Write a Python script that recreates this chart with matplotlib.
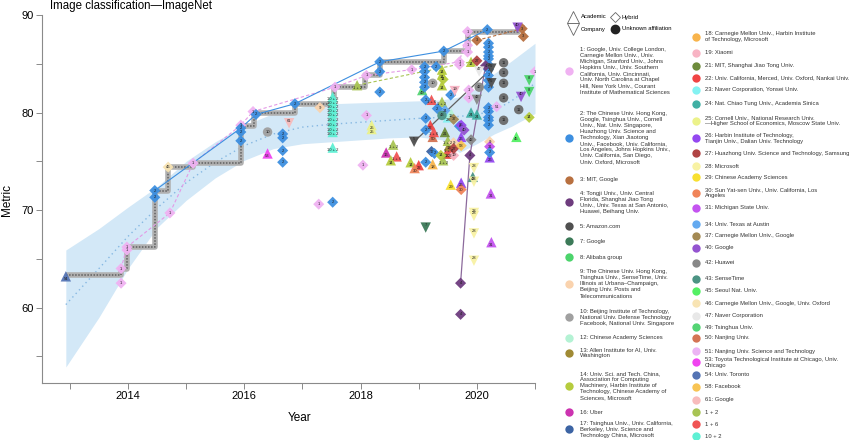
import numpy as np
import matplotlib.pyplot as plt
from matplotlib.ticker import FixedLocator, FuncFormatter

plt.rcParams['font.family'] = ['Liberation Sans', 'DejaVu Sans']

# ---- fitted trend with its band ----
band_year = [2012.93, 2013.5, 2014.0, 2014.5, 2015.0, 2015.5, 2016.0, 2016.5, 2017.0, 2017.5,
             2018.0, 2018.5, 2019.0, 2019.4, 2019.7, 2020.0, 2020.3, 2020.6, 2021.0]
band_lo = [53.9, 59.0, 64.0, 68.2, 71.0, 73.3, 75.1, 76.3, 76.8, 77.0,
           77.2, 77.4, 77.5, 77.2, 75.9, 76.8, 77.8, 78.6, 79.9]
band_hi = [65.9, 68.1, 70.3, 72.4, 75.0, 77.0, 78.7, 79.9, 80.6, 80.9,
           81.0, 81.1, 81.2, 81.3, 81.6, 82.5, 84.0, 85.3, 87.1]
band_mid = [60.3, 64.0, 67.3, 70.2, 72.8, 74.9, 76.6, 77.8, 78.5, 78.8,
            79.0, 79.2, 79.4, 79.5, 79.6, 79.8, 80.2, 81.2, 83.0]

# ---- state of the art (step) ----
sota_year = [2012.93, 2013.88, 2013.98, 2014.46, 2014.69, 2015.12, 2015.94, 2016.16, 2016.87,
             2017.55, 2018.07, 2018.33, 2019.43, 2019.84, 2020.7, 2020.82]
sota_val = [63.3, 64.0, 66.2, 72.0, 74.4, 74.8, 78.6, 80.0, 80.9,
            82.6, 83.8, 85.2, 86.3, 88.3, 88.7, 88.7]

# ---- trajectories of some groups ----
traj1_year = [2013.88, 2013.98, 2014.72, 2015.12, 2015.94, 2016.15, 2017.56, 2018.1, 2018.88, 2019.7, 2019.84]
traj1_val = [64.0, 66.2, 69.7, 74.8, 78.7, 80.1, 82.6, 83.8, 84.4, 85.2, 88.3]
traj2_year = [2014.46, 2015.94, 2016.2, 2016.87, 2018.33, 2019.43, 2020.18]
traj2_val = [72.0, 78.4, 79.8, 80.9, 85.2, 86.3, 88.5]
traj12_year = [2017.94, 2019.9]
traj12_val = [82.8, 85.2]
traj3_year = [2020.0, 2020.78]
traj3_val = [87.4, 88.6]
traj4_year = [2019.72, 2019.88, 2020.15]
traj4_val = [62.5, 75.6, 84.8]
traj5_year = [2018.92, 2020.25]
traj5_val = [77.0, 84.5]

# ---- individual results: group, year, metric, affiliation kind ----
# A academic, H hybrid, C company, U unknown
pt_group = ['54', '1', '1', '1', '1', '2', '2', '46', '1', '1',
            '1', '2', '2', '2', '1', '2', '10', '53', '2', '2',
            '2', '2', '61', '2', '1', '2', '9',
            '10+2', '10+2', '10+2', '10+2', '10+2', '10+2', '10+2', '10+2', '10+2', '10+2',
            '1', '1+2', '1', '1', '1', '25', '25', '2', '2', '2',
            '1+2', '16', '1+6', '14', '1', '5', '14', '22', '30', '7',
            '2', '2', '2', '2', '2', '2', '49', '2', '2', '2',
            '1+6', '1+2', '10', '14', '14', '14', '14', '2', '2', '2',
            '19', '50', '22', '1+6', '17', '2', '18', '1+2', '14', '13',
            '22', '1+6', '19', '13', '1+2', '9', '27', '43', '21', '23',
            '12', '34', '37', '2', '2', '58', '29', '26', '30',
            '1', '1', '1', '1', '1', '14', '27', '3', '1', '1',
            '47', '42', '42', '42', '26', '26', '24', '24', '40', '4',
            '4', '4', '28', '43', '28', '28', '28', '28', '28',
            '2', '2', '2', '2', '2', '2', '2', '2', '2', '2', '2',
            '4', '11', '11', '11', '11', '11', '5', '5',
            '2', '2', '2', '2', '2', '51', '40', '3', '3', '40',
            '11', '8', '8', '1', '14', '45', '9', '31', '2', '26',
            '31', '31']
pt_year = [2012.93, 2013.88, 2013.88, 2013.98, 2013.98, 2014.46, 2014.46, 2014.69, 2014.72, 2015.12,
           2015.94, 2015.94, 2015.94, 2015.94, 2016.15, 2016.2, 2016.4, 2016.4, 2016.66, 2016.66,
           2016.66, 2016.66, 2016.77, 2016.87, 2017.28, 2017.52, 2017.3,
           2017.52, 2017.52, 2017.52, 2017.52, 2017.52, 2017.52, 2017.52, 2017.52, 2017.52, 2017.52,
           2017.56, 2017.94, 2018.1, 2018.1, 2018.04, 2018.19, 2018.19, 2018.33, 2018.33, 2018.33,
           2018.56, 2018.44, 2018.62, 2018.52, 2018.88, 2018.92, 2018.86, 2019.0, 2018.93, 2019.12,
           2019.12, 2019.1, 2019.1, 2019.1, 2019.1, 2019.1, 2019.06, 2019.12, 2019.12, 2019.12,
           2019.22, 2019.4, 2019.24, 2019.4, 2019.4, 2019.42, 2019.4, 2019.3, 2019.43, 2019.55,
           2019.62, 2019.24, 2019.2, 2019.26, 2019.22, 2019.27, 2019.24, 2019.42, 2019.38, 2019.48,
           2019.54, 2019.52, 2019.6, 2019.52, 2019.5, 2019.6, 2019.6, 2019.4, 2019.45, 2019.5,
           2019.56, 2019.45, 2019.6, 2019.32, 2019.7, 2019.73, 2019.55, 2019.73, 2019.73,
           2019.7, 2019.7, 2019.84, 2019.84, 2019.84, 2019.9, 2020.0, 2020.0, 2019.86, 2019.86,
           2020.04, 2020.04, 2020.0, 2019.9, 2019.73, 2019.73, 2019.9, 2020.0, 2019.78, 2019.88,
           2019.72, 2019.72, 2019.95, 2019.93, 2019.95, 2019.95, 2019.95, 2019.95, 2019.95,
           2020.18, 2020.2, 2020.2, 2020.2, 2020.2, 2020.2, 2020.2, 2020.2, 2020.2, 2020.2, 2020.2,
           2020.15, 2020.46, 2020.46, 2020.46, 2020.46, 2020.46, 2020.25, 2020.25,
           2020.2, 2020.2, 2020.2, 2020.2, 2020.2, 2020.34, 2020.7, 2020.78, 2020.8, 2020.76,
           2020.72, 2020.9, 2020.9, 2021.0, 2020.9, 2020.68, 2020.22, 2020.22, 2020.22, 2020.22,
           2020.24, 2020.25]
pt_val = [63.2, 64.0, 62.5, 66.2, 65.9, 72.0, 71.3, 74.4, 69.7, 74.8,
          78.7, 78.4, 78.0, 77.1, 80.1, 79.8, 78.0, 75.8, 77.8, 77.4,
          76.1, 74.9, 78.9, 80.9, 70.6, 70.8, 80.5,
          81.6, 81.2, 80.8, 80.4, 80.0, 79.5, 79.0, 78.5, 78.0, 76.4,
          82.6, 82.8, 83.8, 79.7, 74.6, 78.7, 78.3, 85.2, 84.2, 82.1,
          76.7, 75.9, 75.5, 75.1, 84.4, 77.0, 74.9, 74.6, 74.3, 68.2,
          74.9, 84.7, 84.2, 83.6, 83.1, 82.6, 82.3, 81.3, 79.4, 78.2,
          81.3, 81.1, 83.0, 84.4, 83.9, 83.4, 82.8, 84.7, 86.3, 81.8,
          82.2, 77.5, 78.7, 78.0, 76.0, 75.8, 74.7, 75.1, 75.6, 75.8,
          75.8, 76.3, 75.6, 76.6, 77.1, 76.9, 76.3, 79.7, 78.0, 79.5,
          79.9, 80.2, 79.3, 80.4, 78.6, 76.6, 72.6, 72.8, 72.1,
          85.2, 84.9, 88.3, 86.9, 86.2, 85.2, 85.3, 87.4, 82.3, 81.5,
          84.2, 82.6, 81.3, 77.2, 77.5, 78.7, 80.0, 79.8, 78.2, 75.6,
          62.5, 59.3, 74.3, 73.4, 72.9, 69.7, 69.4, 67.6, 64.8,
          88.5, 87.1, 86.7, 86.2, 85.8, 85.5, 84.9, 84.4, 83.8, 83.3, 82.6,
          84.8, 85.1, 84.1, 83.0, 81.5, 79.2, 84.5, 83.0,
          80.5, 80.1, 79.5, 79.2, 78.7, 80.6, 88.7, 88.6, 87.8, 81.6,
          80.3, 83.3, 82.1, 84.2, 79.5, 77.5, 77.0, 76.5, 75.9, 75.4,
          71.7, 66.7]
pt_kind = ['A', 'H', 'H', 'H', 'H', 'H', 'H', 'H', 'H', 'H',
           'H', 'H', 'H', 'H', 'H', 'H', 'U', 'A', 'H', 'H',
           'H', 'H', 'C', 'H', 'H', 'H', 'H',
           'A', 'A', 'A', 'A', 'A', 'A', 'A', 'A', 'A', 'A',
           'H', 'A', 'H', 'H', 'H', 'A', 'A', 'H', 'H', 'H',
           'A', 'A', 'A', 'A', 'H', 'C', 'A', 'A', 'A', 'C',
           'H', 'H', 'H', 'H', 'H', 'H', 'A', 'H', 'H', 'H',
           'A', 'A', 'U', 'A', 'A', 'H', 'A', 'H', 'H', 'H',
           'C', 'A', 'A', 'A', 'H', 'H', 'A', 'A', 'H', 'A',
           'A', 'A', 'H', 'A', 'A', 'H', 'H', 'U', 'A', 'A',
           'A', 'H', 'H', 'H', 'H', 'H', 'A', 'A', 'H',
           'H', 'H', 'H', 'H', 'H', 'A', 'H', 'H', 'H', 'H',
           'C', 'U', 'C', 'H', 'A', 'H', 'A', 'A', 'H', 'H',
           'H', 'H', 'C', 'A', 'C', 'C', 'C', 'C', 'C',
           'H', 'H', 'H', 'H', 'H', 'H', 'H', 'H', 'H', 'H', 'H',
           'H', 'U', 'U', 'U', 'U', 'U', 'C', 'C',
           'H', 'H', 'H', 'H', 'H', 'H', 'C', 'H', 'H', 'C',
           'U', 'C', 'C', 'H', 'H', 'A', 'H', 'H', 'H', 'A',
           'A', 'A']

# ---- legend texts ----
leg_left_keys = ['1', '2', '3', '4', '5', '7', '8', '9', '10', '12', '13', '14', '16', '17']
leg_left_text = [
    'Google, Univ. College London,\nCarnegie Mellon Univ., Univ.\nMichigan, Stanford Univ., Johns\n'
    'Hopkins Univ., Univ. Southern\nCalifornia, Univ. Cincinnati,\nUniv. North Carolina at Chapel\n'
    'Hill, New York Univ., Courant\nInstitute of Mathematical Sciences',
    'The Chinese Univ. Hong Kong,\nGoogle, Tsinghua Univ., Cornell\nUniv., Nat. Univ. Singapore,\n'
    'Huazhong Univ. Science and\nTechnology, Xian Jiaotong\nUniv., Facebook, Univ. California,\n'
    'Los Angeles, Johns Hopkins Univ.,\nUniv. California, San Diego,\nUniv. Oxford, Microsoft',
    'MIT, Google',
    'Tongji Univ., Univ. Central\nFlorida, Shanghai Jiao Tong\nUniv., Univ. Texas at San Antonio,\n'
    'Huawei, Beihang Univ.',
    'Amazon.com',
    'Google',
    'Alibaba group',
    'The Chinese Univ. Hong Kong,\nTsinghua Univ., SenseTime, Univ.\nIllinois at Urbana\u2013Champaign,\n'
    'Beijing Univ. Posts and\nTelecommunications',
    'Beijing Institute of Technology,\nNational Univ. Defense Technology\nFacebook, National Univ. Singapore',
    'Chinese Academy Sciences',
    'Allen Institute for AI, Univ.\nWashington',
    'Univ. Sci. and Tech. China,\nAssociation for Computing\nMachinery, Harbin Institute of\n'
    'Technology, Chinese Academy of\nSciences, Microsoft',
    'Uber',
    'Tsinghua Univ., Univ. California,\nBerkeley, Univ. Science and\nTechnology China, Microsoft',
]
leg_right_keys = ['18', '19', '21', '22', '23', '24', '25', '26', '27', '28', '29', '30', '31',
                  '34', '37', '40', '42', '43', '45', '46', '47', '49', '50', '51', '53', '54',
                  '58', '61', '1+2', '1+6', '10+2']
leg_right_text = [
    'Carnegie Mellon Univ., Harbin Institute\nof Technology, Microsoft',
    'Xiaomi',
    'MIT, Shanghai Jiao Tong Univ.',
    'Univ. California, Merced, Univ. Oxford, Nankai Univ.',
    'Naver Corporation, Yonsei Univ.',
    'Nat. Chiao Tung Univ., Academia Sinica',
    'Cornell Univ., National Research Univ.\n\u2014Higher School of Economics, Moscow State Univ.',
    'Harbin Institute of Technology,\nTianjin Univ., Dalian Univ. Technology',
    'Huazhong Univ. Science and Technology, Samsung',
    'Microsoft',
    'Chinese Academy Sciences',
    'Sun Yat-sen Univ., Univ. California, Los\nAngeles',
    'Michigan State Univ.',
    'Univ. Texas at Austin',
    'Carnegie Mellon Univ., Google',
    'Google',
    'Huawei',
    'SenseTime',
    'Seoul Nat. Univ.',
    'Carnegie Mellon Univ., Google, Univ. Oxford',
    'Naver Corporation',
    'Tsinghua Univ.',
    'Nanjing Univ.',
    'Nanjing Univ. Science and Technology',
    'Toyota Technological Institute at Chicago, Univ.\nChicago',
    'Univ. Toronto',
    'Facebook',
    'Google',
    '', '', '',
]

# ---- styles ----
grp_colors = {
    '1': '#f0b2f2', '2': '#3d8fe0', '3': '#b87040', '4': '#6e3c7e', '5': '#505050',
    '7': '#3c7a58', '8': '#4cd46c', '9': '#fad3ae', '10': '#a0a0a0', '11': '#6a6a6a',
    '12': '#b4f2d4', '13': '#a08a34', '14': '#b6cc3e', '16': '#cc33b0', '17': '#3c64a4',
    '18': '#f8b44c', '19': '#f8b4c4', '21': '#6e8c3c', '22': '#f04444', '23': '#84f2f2',
    '24': '#40b0a4', '25': '#ecf28a', '26': '#9448f0', '27': '#b04444', '28': '#f8f2a4',
    '29': '#f8e030', '30': '#f08458', '31': '#c454f0', '34': '#64aaf0', '37': '#a48a54',
    '40': '#9454d0', '42': '#888888', '43': '#4c9484', '45': '#54f064', '46': '#f8e4b4',
    '47': '#e8e8e8', '49': '#54d474', '50': '#d47454', '51': '#ecb4f4', '53': '#f044f0',
    '54': '#5474b4', '58': '#f8c454', '61': '#f8bcbc', '1+2': '#a8c454', '1+6': '#f05454',
    '10+2': '#5ef0d4',
}
kind_marker = {'A': '^', 'H': 'D', 'C': 'v', 'U': 'o'}
kind_size = {'A': 56, 'H': 32, 'C': 56, 'U': 46}

W, H = 850, 440
fig = plt.figure(figsize=(W / 100, H / 100), dpi=100)
ax = fig.add_axes([42 / W, 1 - 383 / H, (535 - 42) / W, (383 - 15) / H])

ax.fill_between(band_year, band_lo, band_hi, color='#d3e8f7', lw=0, zorder=1)
ax.plot(band_year, band_mid, color='#86b8e2', lw=1, ls=(0, (1, 2.5)), zorder=2)

ax.plot(sota_year, sota_val, drawstyle='steps-post', color='#b0b0b0', lw=4, zorder=3,
        solid_capstyle='butt')
ax.plot(sota_year, sota_val, drawstyle='steps-post', color='#606060', lw=1.1,
        ls=(0, (1, 1)), zorder=3)

ax.plot(traj1_year, traj1_val, color='#e39ae6', lw=0.8, ls=(0, (3, 2)), zorder=4)
ax.plot(traj2_year, traj2_val, color='#3d8fe0', lw=0.8, zorder=4)
ax.plot(traj12_year, traj12_val, color='#a8c454', lw=0.8, ls=(0, (3, 2)), zorder=4)
ax.plot(traj3_year, traj3_val, color='#b87040', lw=0.8, ls=(0, (3, 2)), zorder=4)
ax.plot(traj4_year, traj4_val, color='#8c6a9c', lw=0.9, zorder=4)
ax.plot(traj5_year, traj5_val, color='#606060', lw=0.9, zorder=4)

for k in ['A', 'H', 'C', 'U']:
    idx = [i for i, kk in enumerate(pt_kind) if kk == k]
    ax.scatter([pt_year[i] for i in idx], [pt_val[i] for i in idx],
               c=[grp_colors[pt_group[i]] for i in idx], marker=kind_marker[k],
               s=kind_size[k], edgecolors='none', alpha=0.95, zorder=5)
for g, x, y, k in zip(pt_group, pt_year, pt_val, pt_kind):
    dy = -0.25 if k == 'A' else (0.25 if k == 'C' else 0)
    ax.text(x, y + dy, g.replace('+', ' + '), fontsize=3, ha='center', va='center',
            color='#222222', zorder=6)

ax.set_xlim(2012.52, 2021.0)
ax.set_ylim(52.26, 90)
for s in ['top', 'right']:
    ax.spines[s].set_visible(False)
for s in ['left', 'bottom']:
    ax.spines[s].set_color('#8a8a8a')
    ax.spines[s].set_linewidth(0.8)
ax.xaxis.set_major_locator(FixedLocator(list(range(2013, 2022))))
ax.xaxis.set_major_formatter(FuncFormatter(lambda v, p: f'{int(v)}' if int(v) % 2 == 0 else ''))
ax.yaxis.set_major_locator(FixedLocator(list(range(55, 91, 5))))
ax.yaxis.set_major_formatter(FuncFormatter(lambda v, p: f'{int(v)}' if int(v) % 10 == 0 else ''))
ax.tick_params(length=4, width=0.7, color='#8a8a8a', labelsize=8, pad=2)

fig.text(50 / W, 1 - 6 / H, 'Image classification\u2014ImageNet', fontsize=8.3, va='center')
fig.text(7 / W, 1 - 200 / H, 'Metric', fontsize=8.5, rotation=90, va='center', ha='center')
fig.text(300 / W, 1 - 418 / H, 'Year', fontsize=8.5, va='center', ha='center')

# ---- legend drawn in pixel coordinates ----
lax = fig.add_axes([0, 0, 1, 1])
lax.set_xlim(0, W)
lax.set_ylim(H, 0)
lax.axis('off')

fs = 4.2
lax.plot(573, 17, marker='^', ms=8, mfc='white', mec='#666666', mew=0.6)
lax.text(581, 17, 'Academic', fontsize=fs, va='center')
lax.plot(615, 17, marker='D', ms=5.5, mfc='white', mec='#666666', mew=0.6)
lax.text(622, 17, 'Hybrid', fontsize=fs, va='center')
lax.plot(573, 29, marker='v', ms=8, mfc='white', mec='#666666', mew=0.6)
lax.text(581, 29, 'Company', fontsize=fs, va='center')
lax.plot(615, 29, marker='o', ms=6, mfc='#222222', mec='#222222')
lax.text(622, 29, 'Unknown affiliation', fontsize=fs, va='center')

leg_left_y = [71, 138, 180, 202, 226, 241, 257, 284, 317, 338, 353, 386, 412, 429]
leg_right_y = [37, 53, 66, 78, 90, 104, 121, 138, 153, 166, 177, 193, 208, 224, 236, 248,
               263, 279, 291, 303, 316, 327, 338, 351, 362, 375, 387, 400, 412, 424, 436]

for key, txt, y in zip(leg_left_keys, leg_left_text, leg_left_y):
    lax.plot(569, y, marker='o', ms=6, color=grp_colors[key], mec='none')
    lax.text(580, y, f'{key}: {txt}', fontsize=fs, va='center', linespacing=1.25,
             color='#333333')
for key, txt, y in zip(leg_right_keys, leg_right_text, leg_right_y):
    lax.plot(696, y, marker='o', ms=6, color=grp_colors[key], mec='none')
    label = f'{key}: {txt}' if txt else key.replace('+', ' + ')
    lax.text(705, y, label, fontsize=fs, va='center', linespacing=1.25, color='#333333')

fig.savefig('out.png', dpi=100)
